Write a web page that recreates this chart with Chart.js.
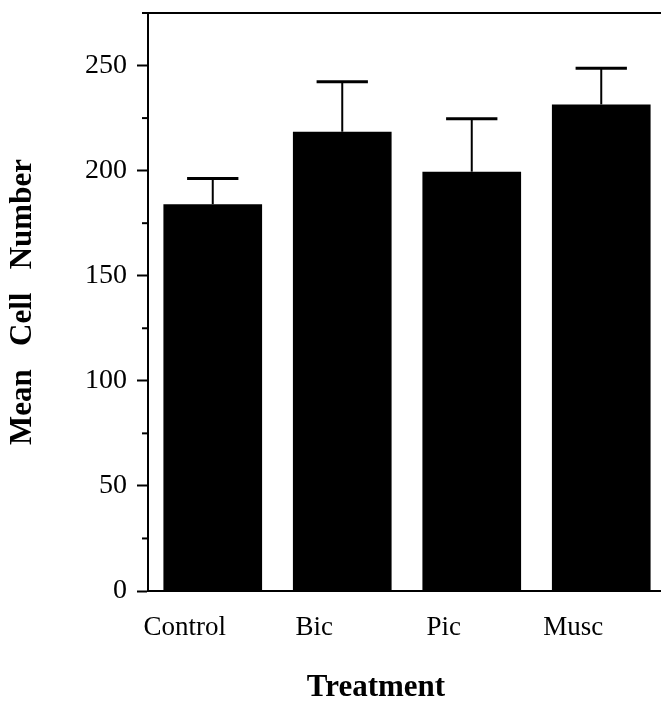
<!DOCTYPE html>
<html>
<head>
    <title>Mean Cell Number by Treatment</title>
    <style>
        html, body {
            margin: 0;
            padding: 0;
            background: #fff;
            overflow: hidden;
        }
        .chart-container {
            position: relative;
            width: 668px;
            height: 703px;
        }
    </style>
    <script src="https://cdn.jsdelivr.net/npm/chart.js"></script>
</head>
<body>
    <div class="chart-container">
        <canvas id="cellChart"></canvas>
    </div>

    <script>
        // Data
        const treatments = ['Control', 'Bic', 'Pic', 'Musc'];
        const meanCells = [184, 218.5, 199.5, 231.5];
        const errors = [12.3, 23.8, 25.2, 17.2];
        const yTicks = [0, 50, 100, 150, 200, 250];
        const yMinorTicks = [25, 75, 125, 175, 225, 275];

        const serif = "'Liberation Serif', 'Times New Roman', serif";

        // error bars (upper half only), minor ticks and the top frame line
        const extrasPlugin = {
            id: 'extras',
            afterDatasetsDraw(chart) {
                const ctx = chart.ctx;
                const yScale = chart.scales.y;
                const area = chart.chartArea;
                const meta = chart.getDatasetMeta(0);

                ctx.save();
                ctx.strokeStyle = '#000';
                meta.data.forEach((bar, i) => {
                    const p = bar.getProps(['x', 'y', 'width'], true);
                    const top = yScale.getPixelForValue(meanCells[i] + errors[i]);
                    const half = p.width * 0.26;
                    ctx.lineWidth = 2;
                    ctx.beginPath();
                    ctx.moveTo(p.x, p.y);
                    ctx.lineTo(p.x, top);
                    ctx.stroke();
                    ctx.lineWidth = 3;
                    ctx.beginPath();
                    ctx.moveTo(p.x - half, top);
                    ctx.lineTo(p.x + half, top);
                    ctx.stroke();
                });

                ctx.lineWidth = 2;
                yMinorTicks.forEach(v => {
                    const py = yScale.getPixelForValue(v);
                    ctx.beginPath();
                    ctx.moveTo(area.left - 6, py);
                    ctx.lineTo(area.left, py);
                    ctx.stroke();
                });

                ctx.beginPath();
                ctx.moveTo(area.left - 6, area.top);
                ctx.lineTo(chart.width, area.top);
                ctx.stroke();
                ctx.restore();
            }
        };

        const ctx = document.getElementById('cellChart').getContext('2d');
        new Chart(ctx, {
            type: 'bar',
            data: {
                labels: treatments,
                datasets: [{
                    label: 'Mean Cell Number',
                    data: meanCells,
                    backgroundColor: '#000',
                    borderWidth: 0,
                    barPercentage: 0.762,
                    categoryPercentage: 1.0
                }]
            },
            options: {
                responsive: true,
                maintainAspectRatio: false,
                animation: false,
                layout: {
                    padding: { top: 13, right: 2, left: 0, bottom: 0 }
                },
                plugins: {
                    legend: { display: false },
                    tooltip: { enabled: false }
                },
                scales: {
                    x: {
                        offset: true,
                        grid: { display: false, drawTicks: false },
                        border: { display: true, color: '#000', width: 2 },
                        ticks: {
                            color: '#000',
                            padding: 21,
                            labelOffset: -28,
                            font: { family: serif, size: 27 }
                        },
                        title: {
                            display: true,
                            // trailing spaces nudge the centred title left, as in the original
                            text: 'Treatment        ',
                            color: '#000',
                            padding: { top: 0, bottom: 0 },
                            font: { family: serif, size: 31, weight: 'bold', lineHeight: 1 }
                        },
                        afterFit(scale) {
                            scale.height = 112;
                            scale.paddingLeft = 0;
                            scale.paddingRight = 0;
                        }
                    },
                    y: {
                        min: 0,
                        max: 275,
                        grid: {
                            drawOnChartArea: false,
                            drawTicks: true,
                            tickLength: 11,
                            tickWidth: 2,
                            tickColor: '#000'
                        },
                        border: { display: true, color: '#000', width: 2 },
                        ticks: {
                            stepSize: 50,
                            color: '#000',
                            padding: 10,
                            font: { family: serif, size: 28 }
                        },
                        afterBuildTicks(scale) {
                            scale.ticks = yTicks.map(v => ({ value: v }));
                        },
                        title: {
                            display: true,
                            text: 'Mean   Cell   Number',
                            color: '#000',
                            padding: { top: 7, bottom: 0 },
                            font: { family: serif, size: 31, weight: 'bold', lineHeight: 1 }
                        },
                        afterFit(scale) {
                            scale.width = 148;
                            scale.paddingTop = 0;
                            scale.paddingBottom = 0;
                        }
                    }
                }
            },
            plugins: [extrasPlugin]
        });
    </script>
</body>
</html>
